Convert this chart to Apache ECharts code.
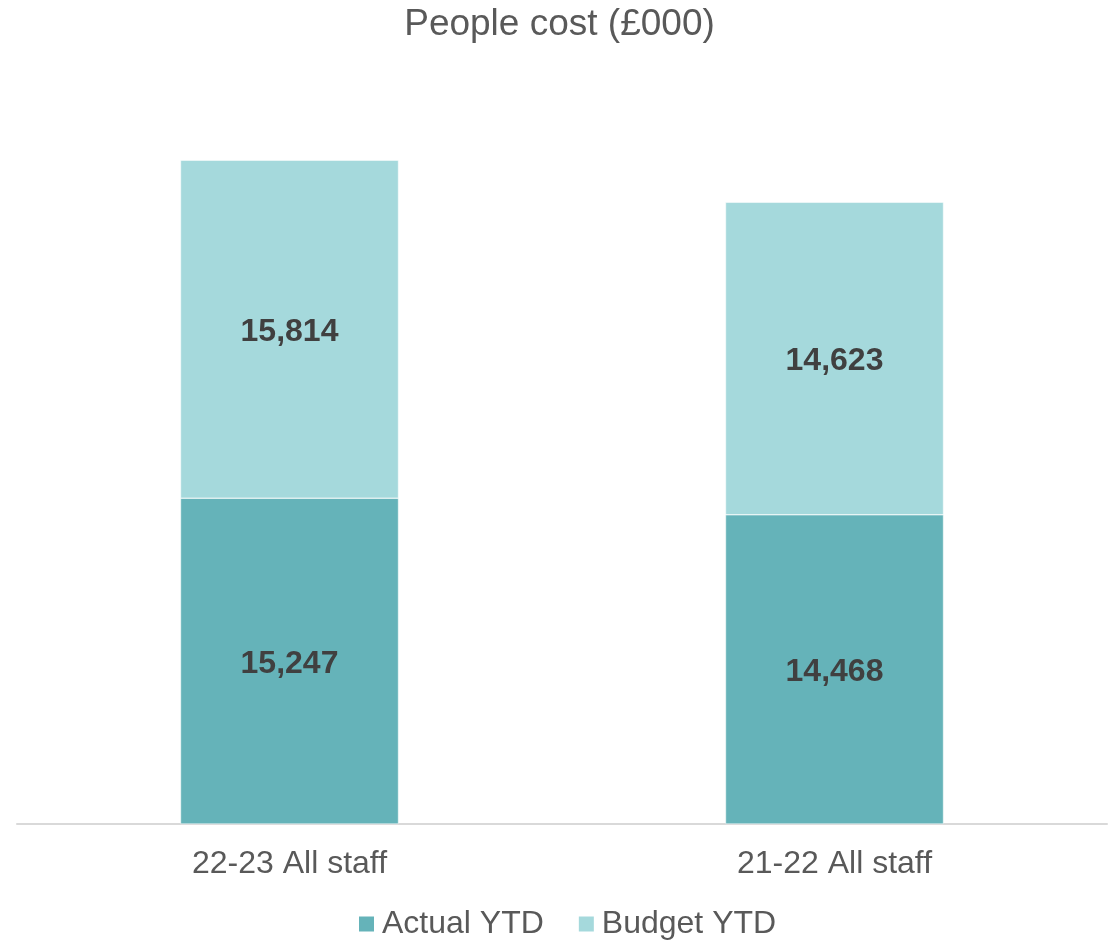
<!DOCTYPE html>
<html>
<head>
<meta charset="utf-8">
<script src="https://cdn.jsdelivr.net/npm/echarts@6/dist/echarts.min.js"></script>
<style>html,body{margin:0;padding:0;background:#fff}#c{width:1119px;height:943px}</style>
</head>
<body>
<div id="c"></div>
<script>
const categories = ['22-23 All staff', '21-22 All staff'];
const actualYTD = [15247, 14468];
const budgetYTD = [15814, 14623];
const seriesNames = ['Actual YTD', 'Budget YTD'];

const chart = echarts.init(document.getElementById('c'));
const fmt = p => p.value.toLocaleString('en-GB');
const lbl = {show: true, position: 'inside', offset: [0, 3], formatter: fmt, color: '#404040', fontWeight: 'bold', fontSize: 32, fontFamily: 'Liberation Sans'};
chart.setOption({
  animation: false,
  textStyle: {fontFamily: 'Liberation Sans'},
  title: {text: 'People cost (£000)', left: 'center', top: 1, textStyle: {color: '#595959', fontSize: 37, fontWeight: 'normal', fontFamily: 'Liberation Sans'}},
  legend: {left: 357, bottom: 3, padding: 0, itemWidth: 17, itemHeight: 17, itemGap: 33, icon: 'rect',
    textStyle: {color: '#595959', fontSize: 32, fontFamily: 'Liberation Sans', padding: [0,0,0,2]}},
  grid: {left: 17, right: 12, top: 76, bottom: 119, containLabel: false},
  xAxis: {type: 'category', data: categories,
    axisLine: {lineStyle: {color: '#D9D9D9', width: 2}}, axisTick: {show: false},
    axisLabel: {color: '#595959', fontSize: 32, margin: 24, fontFamily: 'Liberation Sans'}},
  yAxis: {type: 'value', min: 0, max: 35000, show: false, splitLine: {show: false}},
  series: [
    {name: seriesNames[0], type: 'bar', stack: 'a', data: actualYTD, barWidth: '40%',
     itemStyle: {color: '#65B3B9', borderColor: '#fff', borderWidth: 0.5}, label: lbl},
    {name: seriesNames[1], type: 'bar', stack: 'a', data: budgetYTD, barWidth: '40%',
     itemStyle: {color: '#A5D9DC', borderColor: '#fff', borderWidth: 0.5}, label: lbl}
  ]
});
</script>
</body>
</html>
